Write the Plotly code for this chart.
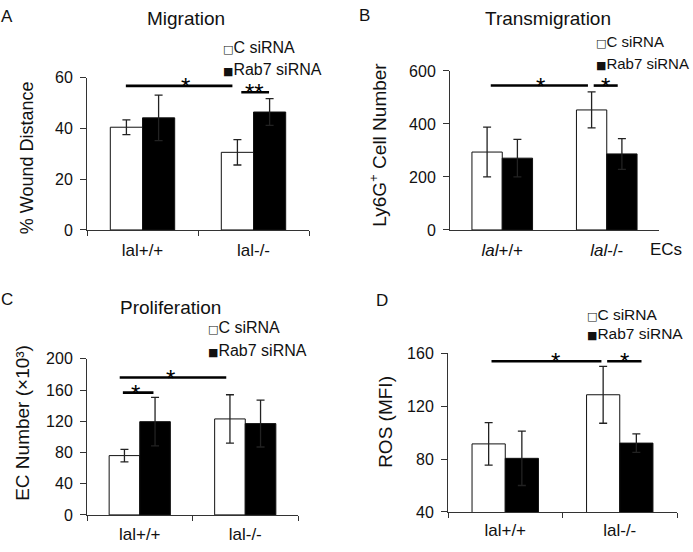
import plotly.graph_objects as go

W, H = 693, 552
FONT = "Liberation Sans, Arial, sans-serif"

# ---------------- data ----------------
groups = ["lal+/+", "lal-/-"]
groups_italic = ["<i>lal</i>+/+", "<i>lal</i>-/-"]
series_names = ["C siRNA", "Rab7 siRNA"]

# A: Migration (% wound distance)
mig_c = [40.5, 30.6]
mig_c_err = [2.9, 5.0]
mig_r = [44.2, 46.5]
mig_r_err = [9.0, 5.3]

# B: Transmigration (Ly6G+ cell number)
trans_c = [294, 453]
trans_c_err = [94, 68]
trans_r = [271, 287]
trans_r_err = [71, 58]

# C: Proliferation (EC number x10^3)
prol_c = [76, 123]
prol_c_err = [8, 31]
prol_r = [119.5, 117]
prol_r_err = [31, 30]

# D: ROS (MFI)
ros_c = [91.4, 128.5]
ros_c_err = [16, 21.5]
ros_r = [80.5, 92]
ros_r_err = [20.5, 7]

# significance brackets: (x_start, x_end, y, star_x, label) in axis units
sig_A = [(-0.15, 0.81, 56.8, 0.39, "*"), (0.89, 1.14, 54.3, 1.01, "**")]
sig_B = [(-0.11, 0.82, 545, 0.37, "*"), (0.875, 1.105, 545, 0.99, "*")]
sig_C = [(-0.19, 0.82, 176, 0.29, "*"), (-0.16, 0.13, 156.7, -0.045, "*")]
sig_D = [(-0.12, 0.84, 153.8, 0.44, "*"), (0.89, 1.19, 153.8, 1.04, "*")]

yticks_A = [0, 20, 40, 60]
yticks_B = [0, 200, 400, 600]
yticks_C = [0, 40, 80, 120, 160, 200]
yticks_D = [40, 80, 120, 160]

# ---------------- layout helpers ----------------
def px(x):
    return x / W

def py(y):
    return 1 - y / H

panels = [
    dict(ax="", x0=87, x1=309, yt=72, yb=229, yr=[0, 60], yticks=yticks_A,
         c=mig_c, ce=mig_c_err, r=mig_r, re=mig_r_err, sig=sig_A,
         title="Migration", title_xy=(186, 11), letter="A", letter_xy=(7, 9),
         ytitle="% Wound Distance", ytitle_xy=(27, 155), ytitle_size=18,
         leg_xy=(221, 41, 63), leg_size=16, labels=groups, minor=True, standoff=5),
    dict(ax="2", x0=450, x1=659, yt=65, yb=229, yr=[0, 600], yticks=yticks_B,
         c=trans_c, ce=trans_c_err, r=trans_r, re=trans_r_err, sig=sig_B,
         title="Transmigration", title_xy=(548, 11), letter="B", letter_xy=(364, 8),
         ytitle="Ly6G<sup>+</sup> Cell Number", ytitle_xy=(378, 141), ytitle_size=19,
         leg_xy=(594, 35, 57), leg_size=15, labels=groups_italic, minor=False, standoff=5),
    dict(ax="3", x0=87, x1=298, yt=362, yb=523, yr=[0, 200], yticks=yticks_C,
         c=prol_c, ce=prol_c_err, r=prol_r, re=prol_r_err, sig=sig_C,
         title="Proliferation", title_xy=(170, 309), letter="C", letter_xy=(7, 301),
         ytitle="EC Number (×10³)", ytitle_xy=(23, 428), ytitle_size=19,
         leg_xy=(206, 330, 353), leg_size=16, labels=groups, minor=True, standoff=4),
    dict(ax="4", x0=448, x1=677, yt=356, yb=520, yr=[40, 160], yticks=yticks_D,
         c=ros_c, ce=ros_c_err, r=ros_r, re=ros_r_err, sig=sig_D,
         title=None, title_xy=None, letter="D", letter_xy=(382, 302),
         ytitle="ROS (MFI)", ytitle_xy=(386, 427), ytitle_size=19,
         leg_xy=(585, 316, 336), leg_size=15.5, labels=groups, minor=True, standoff=3),
]

fig = go.Figure()
annotations = []
shapes = []
AXC = "#333333"
xpos = [0, 1]
SQ = "<span style='font-family:DejaVu Sans;font-size:11px'>{}</span>"

for p in panels:
    xa = "x" + p["ax"]
    ya = "y" + p["ax"]
    for vals, errs, fill, name in [(p["c"], p["ce"], "white", series_names[0]),
                                   (p["r"], p["re"], "black", series_names[1])]:
        fig.add_trace(go.Bar(
            x=xpos, y=vals, name=name, xaxis=xa, yaxis=ya, showlegend=False,
            marker=dict(color=fill, line=dict(color="#111111", width=1)),
            error_y=dict(type="data", array=errs, visible=True, color="#222222",
                         thickness=1.3, width=4),
        ))
    xkey = "xaxis" + p["ax"]
    ykey = "yaxis" + p["ax"]
    xd = dict(domain=[px(p["x0"]), px(p["x1"])], range=[-0.5, 1.5], anchor=ya,
              showline=True, linecolor=AXC, linewidth=1, showgrid=False, zeroline=False,
              tickmode="array", tickvals=xpos, ticktext=p["labels"], ticks="", ticklen=0,
              ticklabelstandoff=p["standoff"],
              tickfont=dict(size=17, color="#111111", family=FONT),
              fixedrange=True)
    if p["minor"]:
        xd["minor"] = dict(tickmode="array", tickvals=[-0.5, 0.5, 1.5], ticks="outside",
                           ticklen=5, tickcolor=AXC, tickwidth=1)
    yd = dict(domain=[py(p["yb"]), py(p["yt"])], range=p["yr"], anchor=xa,
              showline=True, linecolor=AXC, linewidth=1, showgrid=False, zeroline=False,
              tickmode="array", tickvals=p["yticks"], ticks="outside", ticklen=6,
              tickcolor=AXC, ticklabelstandoff=4,
              tickfont=dict(size=16, color="#111111", family=FONT), fixedrange=True)
    fig.layout[xkey] = xd
    fig.layout[ykey] = yd

    # significance brackets
    for (xs, xe, yv, sx, lab) in p["sig"]:
        shapes.append(dict(type="line", xref=xa, yref=ya, x0=xs, x1=xe, y0=yv, y1=yv,
                           line=dict(color="black", width=2.6)))
        annotations.append(dict(xref=xa, yref=ya, x=sx, y=yv, text=lab, showarrow=False,
                                xanchor="center", yanchor="bottom", yshift=-16,
                                font=dict(size=24, color="black", family=FONT)))

    # titles
    if p["title"]:
        tx, ty = p["title_xy"]
        annotations.append(dict(xref="paper", yref="paper", x=px(tx), y=py(ty),
                                text=p["title"], showarrow=False, xanchor="center",
                                yanchor="middle", font=dict(size=19, color="#111111", family=FONT)))
    lx, ly = p["letter_xy"]
    annotations.append(dict(xref="paper", yref="paper", x=px(lx), y=py(ly), text=p["letter"],
                            showarrow=False, xanchor="center", yanchor="middle",
                            font=dict(size=17, color="#111111", family=FONT)))
    yx, yy = p["ytitle_xy"]
    annotations.append(dict(xref="paper", yref="paper", x=px(yx), y=py(yy), text=p["ytitle"],
                            showarrow=False, textangle=-90, xanchor="center", yanchor="middle",
                            font=dict(size=p["ytitle_size"], color="#111111", family=FONT)))
    # legend
    gx, g1, g2 = p["leg_xy"]
    annotations.append(dict(xref="paper", yref="paper", x=px(gx), y=py(g1),
                            text=SQ.format("□") + series_names[0],
                            showarrow=False, xanchor="left", yanchor="middle",
                            font=dict(size=p["leg_size"], color="#111111", family=FONT)))
    annotations.append(dict(xref="paper", yref="paper", x=px(gx), y=py(g2),
                            text=SQ.format("■") + series_names[1],
                            showarrow=False, xanchor="left", yanchor="middle",
                            font=dict(size=p["leg_size"], color="#111111", family=FONT)))

# "ECs" label for panel B
annotations.append(dict(xref="paper", yref="paper", x=px(684), y=py(249), text="ECs",
                        showarrow=False, xanchor="right", yanchor="middle",
                        font=dict(size=17, color="#111111", family=FONT)))

fig.update_layout(
    width=W, height=H, autosize=False,
    margin=dict(l=0, r=0, t=0, b=0),
    paper_bgcolor="white", plot_bgcolor="white",
    barmode="group", bargap=0.42, bargroupgap=0,
    font=dict(family=FONT, color="#111111"),
    annotations=annotations, shapes=shapes, showlegend=False,
)

fig.write_html("out.html", config={"displayModeBar": False},
               post_script="document.body.style.margin='0px';")
